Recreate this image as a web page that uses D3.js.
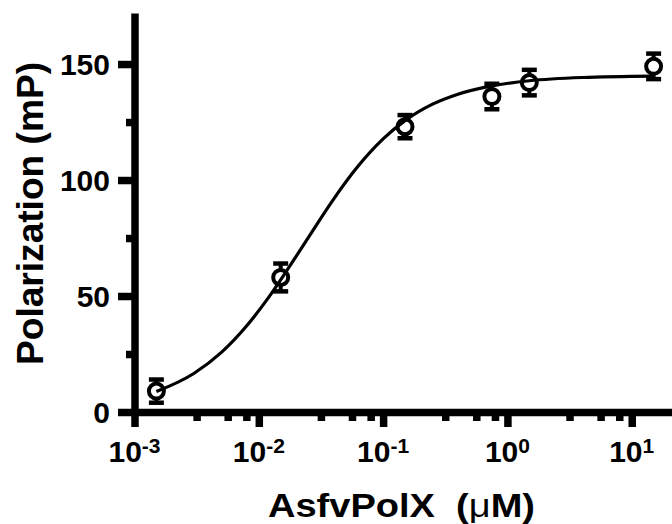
<!DOCTYPE html>
<html>
<head>
<meta charset="utf-8">
<script src="https://cdn.jsdelivr.net/npm/d3@7"></script>
<style>
  body { margin: 0; background: #fff; }
  text { font-family: "Liberation Sans", Arial, sans-serif; font-weight: bold; fill: #000; }
</style>
</head>
<body>
<div id="chart"></div>
<script>
// measured points (mean +/- SD)
const concentration = [0.0015, 0.015, 0.15, 0.75, 1.5, 15];
const polarization = [9, 58, 123, 136, 142, 149];
const errorSD = [5, 6, 5, 5.5, 5.5, 5.5];

// fitted binding curve
const fitX = [0.0015, 0.003, 0.005, 0.008, 0.012, 0.018, 0.025, 0.04, 0.06, 0.1, 0.15, 0.25, 0.4, 0.75, 1.5, 4, 15];
const fitY = [8.8, 16.6, 25.7, 37.2, 49.4, 63.4, 75.2, 91.8, 104.6, 117.7, 125.6, 132.7, 137.0, 140.6, 142.8, 144.2, 144.8];

// ticks
const yTicks = [0, 50, 100, 150];
const yMinorTicks = [25, 75, 125];
const xTickExponents = [-3, -2, -1, 0, 1];
const xMinorMultipliers = [3.16, 5.62, 7.94];

const width = 672, height = 524;
const svg = d3.select("#chart").append("svg")
  .attr("width", width)
  .attr("height", height);

const x = d3.scaleLog()
  .domain([1e-3, Math.pow(10, 1.324)])
  .range([134.5, 672]);
const y = d3.scaleLinear()
  .domain([0, 172])
  .range([412, 13]);

const axisW = "7.5px";

// minor x ticks
const xMinor = [];
xTickExponents.forEach(function(e) {
  xMinorMultipliers.forEach(function(m) {
    const v = m * Math.pow(10, e);
    if (v < x.domain()[1]) xMinor.push(v);
  });
});

function thicken(g) {
  g.selectAll("path, line")
    .style("stroke", "#000")
    .style("stroke-width", axisW)
    .style("stroke-linecap", "butt");
}

// x axis (major)
svg.append("g")
  .attr("transform", `translate(0,${y(0)})`)
  .call(d3.axisBottom(x)
    .tickValues(xTickExponents.map(e => Math.pow(10, e)))
    .tickFormat("")
    .tickSize(15)
    .tickSizeOuter(0))
  .call(thicken);

// x axis (minor)
svg.append("g")
  .attr("transform", `translate(0,${y(0)})`)
  .call(d3.axisBottom(x).tickValues(xMinor).tickFormat("").tickSize(9).tickSizeOuter(0))
  .call(g => g.select(".domain").remove())
  .call(thicken);

// y axis (major)
svg.append("g")
  .attr("transform", `translate(${x(1e-3)},0)`)
  .call(d3.axisLeft(y).tickValues(yTicks).tickFormat("").tickSize(16.5).tickSizeOuter(0))
  .call(thicken);

// y axis (minor)
svg.append("g")
  .attr("transform", `translate(${x(1e-3)},0)`)
  .call(d3.axisLeft(y).tickValues(yMinorTicks).tickFormat("").tickSize(8.5).tickSizeOuter(0))
  .call(g => g.select(".domain").remove())
  .call(thicken);

// y tick labels
svg.selectAll("text.ylab")
  .data(yTicks)
  .enter()
  .append("text")
  .attr("class", "ylab")
  .attr("x", 110)
  .attr("y", d => y(d) + 10.5)
  .attr("text-anchor", "end")
  .style("font-size", "30px")
  .text(d => d);

// x tick labels: 10 with superscript
const xl = svg.selectAll("text.xlab")
  .data(xTickExponents)
  .enter()
  .append("text")
  .attr("class", "xlab")
  .attr("x", d => x(Math.pow(10, d)))
  .attr("y", 462)
  .attr("text-anchor", "middle")
  .style("font-size", "30px");
xl.append("tspan").text("10");
xl.append("tspan")
  .attr("dy", -9)
  .style("font-size", "21px")
  .text(d => String(d));

// axis titles
svg.append("text")
  .attr("transform", "translate(43,213.5) rotate(-90)")
  .attr("text-anchor", "middle")
  .attr("textLength", 303)
  .attr("lengthAdjust", "spacingAndGlyphs")
  .style("font-size", "36px")
  .text("Polarization (mP)");

const xt = svg.append("text")
  .attr("x", 401.5)
  .attr("y", 517)
  .attr("text-anchor", "middle")
  .attr("textLength", 267)
  .attr("lengthAdjust", "spacingAndGlyphs")
  .style("font-size", "34px")
  .style("white-space", "pre")
  .attr("xml:space", "preserve");
xt.append("tspan").text("AsfvPolX  (");
xt.append("tspan").style("font-weight", "normal").text("\u03BC");
xt.append("tspan").text("M)");

// error bars
const pts = concentration.map((c, i) => ({c: c, v: polarization[i], e: errorSD[i]}));
const capW = 15;
const bars = svg.append("g");
pts.forEach(function(d) {
  const cx = x(d.c);
  bars.append("line")
    .attr("x1", cx).attr("x2", cx)
    .attr("y1", y(d.v + d.e)).attr("y2", y(d.v - d.e))
    .attr("stroke", "#000").attr("stroke-width", 4);
  [d.v + d.e, d.v - d.e].forEach(function(v) {
    bars.append("line")
      .attr("x1", cx - capW / 2).attr("x2", cx + capW / 2)
      .attr("y1", y(v)).attr("y2", y(v))
      .attr("stroke", "#000").attr("stroke-width", 4.5);
  });
});

// symbols
svg.selectAll("circle.pt")
  .data(pts)
  .enter()
  .append("circle")
  .attr("class", "pt")
  .attr("cx", d => x(d.c))
  .attr("cy", d => y(d.v))
  .attr("r", 7.5)
  .attr("fill", "#fff")
  .attr("stroke", "#000")
  .attr("stroke-width", 4);

// fit curve
svg.append("path")
  .datum(fitX.map((c, i) => [c, fitY[i]]))
  .attr("fill", "none")
  .attr("stroke", "#000")
  .attr("stroke-width", 3.2)
  .attr("d", d3.line()
    .x(d => x(d[0]))
    .y(d => y(d[1]))
    .curve(d3.curveMonotoneX));
</script>
</body>
</html>
